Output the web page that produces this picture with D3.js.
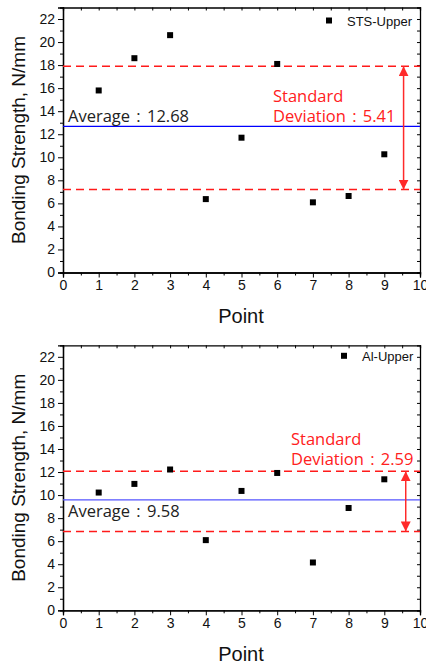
<!DOCTYPE html>
<html lang="en">
<head>
    <meta charset="UTF-8">
    <title>Bonding Strength</title>
    <script src="https://d3js.org/d3.v7.min.js"></script>
    <style>
        body { margin: 0; background: #fff; }
        svg text { font-family: "Liberation Sans", Arial, sans-serif; }
    </style>
</head>
<body>
<div id="chart"></div>
<script>
    // data
    const points = [1, 2, 3, 4, 5, 6, 7, 8, 9];
    const stsValues = [15.8, 18.6, 20.6, 6.37, 11.7, 18.1, 6.09, 6.64, 10.26];
    const alValues = [10.22, 10.97, 12.22, 6.09, 10.36, 11.92, 4.15, 8.88, 11.37];
    const stsStats = {avg: 12.68, upper: 17.9, lower: 7.2, sd: "5.41"};
    const alStats = {avg: 9.58, upper: 12.07, lower: 6.85, sd: "2.59"};
    const xTicks = d3.range(0, 11);
    const yTicks = d3.range(0, 23, 2);

    const width = 426, height = 663;
    const svg = d3.select("#chart").append("svg")
        .attr("width", width)
        .attr("height", height);

    const defs = svg.append("defs");
    defs.append("marker")
        .attr("id", "head")
        .attr("viewBox", "0 0 10 10")
        .attr("refX", 10).attr("refY", 5)
        .attr("markerWidth", 10).attr("markerHeight", 10)
        .attr("markerUnits", "userSpaceOnUse")
        .attr("orient", "auto-start-reverse")
        .append("path")
        .attr("d", "M0,0L10,5L0,10Z")
        .attr("fill", "#ff2a2a");

    function drawPanel(top, values, stats, legend, opts) {
        const x = d3.scaleLinear().domain([0, 10]).range([63, 420]);
        const y = d3.scaleLinear().domain([0, 23]).range([top + 265, top]);
        const g = svg.append("g");

        // axes: bottom/left outward, top/right inward
        g.append("g")
            .attr("transform", `translate(0,${y(0)})`)
            .call(d3.axisBottom(x).tickValues(xTicks).tickSize(5).tickPadding(3).tickFormat(d3.format("d")))
            .call(a => a.selectAll("text").attr("font-size", 14).attr("fill", "#111"));
        g.append("g")
            .attr("transform", `translate(0,${y(0)})`)
            .call(d3.axisBottom(x).tickValues(d3.range(0.5, 10, 1)).tickSize(3).tickFormat(""));
        g.append("g")
            .attr("transform", `translate(63,0)`)
            .call(d3.axisLeft(y).tickValues(yTicks).tickSize(5).tickPadding(3))
            .call(a => a.selectAll("text").attr("font-size", 14).attr("fill", "#111"));
        g.append("g")
            .attr("transform", `translate(63,0)`)
            .call(d3.axisLeft(y).tickValues(d3.range(1, 23, 2)).tickSize(3).tickFormat(""));
        g.append("g")
            .attr("transform", `translate(0,${y(23)})`)
            .call(d3.axisBottom(x).tickValues(d3.range(0, 10.1, 0.5)).tickSize(3).tickFormat(""));
        g.append("g")
            .attr("transform", `translate(420,0)`)
            .call(d3.axisRight(y).tickValues(d3.range(0, 23, 1)).tickSize(-3).tickFormat(""));
        g.selectAll(".domain").attr("stroke", "#000").attr("stroke-width", 1.3);
        g.selectAll(".tick line").attr("stroke", "#000");

        // axis titles
        g.append("text")
            .attr("transform", `translate(25,${(y(0) + y(23)) / 2}) rotate(-90)`)
            .attr("text-anchor", "middle")
            .attr("font-size", 19)
            .attr("fill", "#111")
            .text("Bonding Strength, N/mm");
        g.append("text")
            .attr("x", 241).attr("y", y(0) + 50.5)
            .attr("text-anchor", "middle")
            .attr("font-size", 20)
            .attr("fill", "#111")
            .text("Point");

        // lines
        g.append("line")
            .attr("x1", x(0)).attr("x2", x(10))
            .attr("y1", y(stats.avg)).attr("y2", y(stats.avg))
            .attr("stroke", opts.blue).attr("stroke-width", 1.2);
        [stats.upper, stats.lower].forEach(v => {
            g.append("line")
                .attr("x1", x(0)).attr("x2", x(10))
                .attr("y1", y(v)).attr("y2", y(v))
                .attr("stroke", "#ff1a1a").attr("stroke-width", 1.5)
                .attr("stroke-dasharray", "8,5");
        });

        // arrow
        g.append("line")
            .attr("x1", x(opts.arrowX)).attr("x2", x(opts.arrowX))
            .attr("y1", y(stats.upper)).attr("y2", y(stats.lower))
            .attr("stroke", "#ff2a2a").attr("stroke-width", 1.5)
            .attr("marker-start", "url(#head)")
            .attr("marker-end", "url(#head)");

        // points
        g.selectAll("rect.pt")
            .data(values)
            .join("rect")
            .attr("class", "pt")
            .attr("x", (d, i) => x(points[i]) - 3)
            .attr("y", d => y(d) - 3)
            .attr("width", 6).attr("height", 6)
            .attr("fill", "#000");

        // legend
        g.append("rect")
            .attr("x", opts.legendX - 3).attr("y", top + opts.legendDy - 3)
            .attr("width", 6).attr("height", 6)
            .attr("fill", "#000");
        g.append("text")
            .attr("x", opts.legendX + 18).attr("y", top + opts.legendDy + 5)
            .attr("font-size", 13)
            .attr("fill", "#111")
            .text(legend);

        // annotations
        const note = "'Open Sans', 'Noto Sans', sans-serif";
        g.append("text")
            .attr("x", 68).attr("y", opts.avgY)
            .attr("font-size", 16.5)
            .attr("word-spacing", 2)
            .attr("fill", "#222")
            .style("font-family", note)
            .text("Average : " + stats.avg.toFixed(2));
        const sd = g.append("text")
            .attr("x", opts.sdX).attr("y", opts.sdY)
            .attr("font-size", 16.5)
            .attr("word-spacing", 2)
            .attr("fill", "#ff2020")
            .style("font-family", note);
        sd.append("tspan").attr("x", opts.sdX).text("Standard");
        sd.append("tspan").attr("x", opts.sdX).attr("dy", 20.5).text("Deviation : " + stats.sd);
    }

    drawPanel(7.5, stsValues, stsStats, "STS-Upper",
        {blue: "#0000ff", arrowX: 9.54, legendX: 329, legendDy: 13, avgY: 121.5, sdX: 273, sdY: 101.5});
    drawPanel(345.3, alValues, alStats, "Al-Upper",
        {blue: "#5555ff", arrowX: 9.6, legendX: 344, legendDy: 10.5, avgY: 517, sdX: 291, sdY: 444.5});
</script>
</body>
</html>
